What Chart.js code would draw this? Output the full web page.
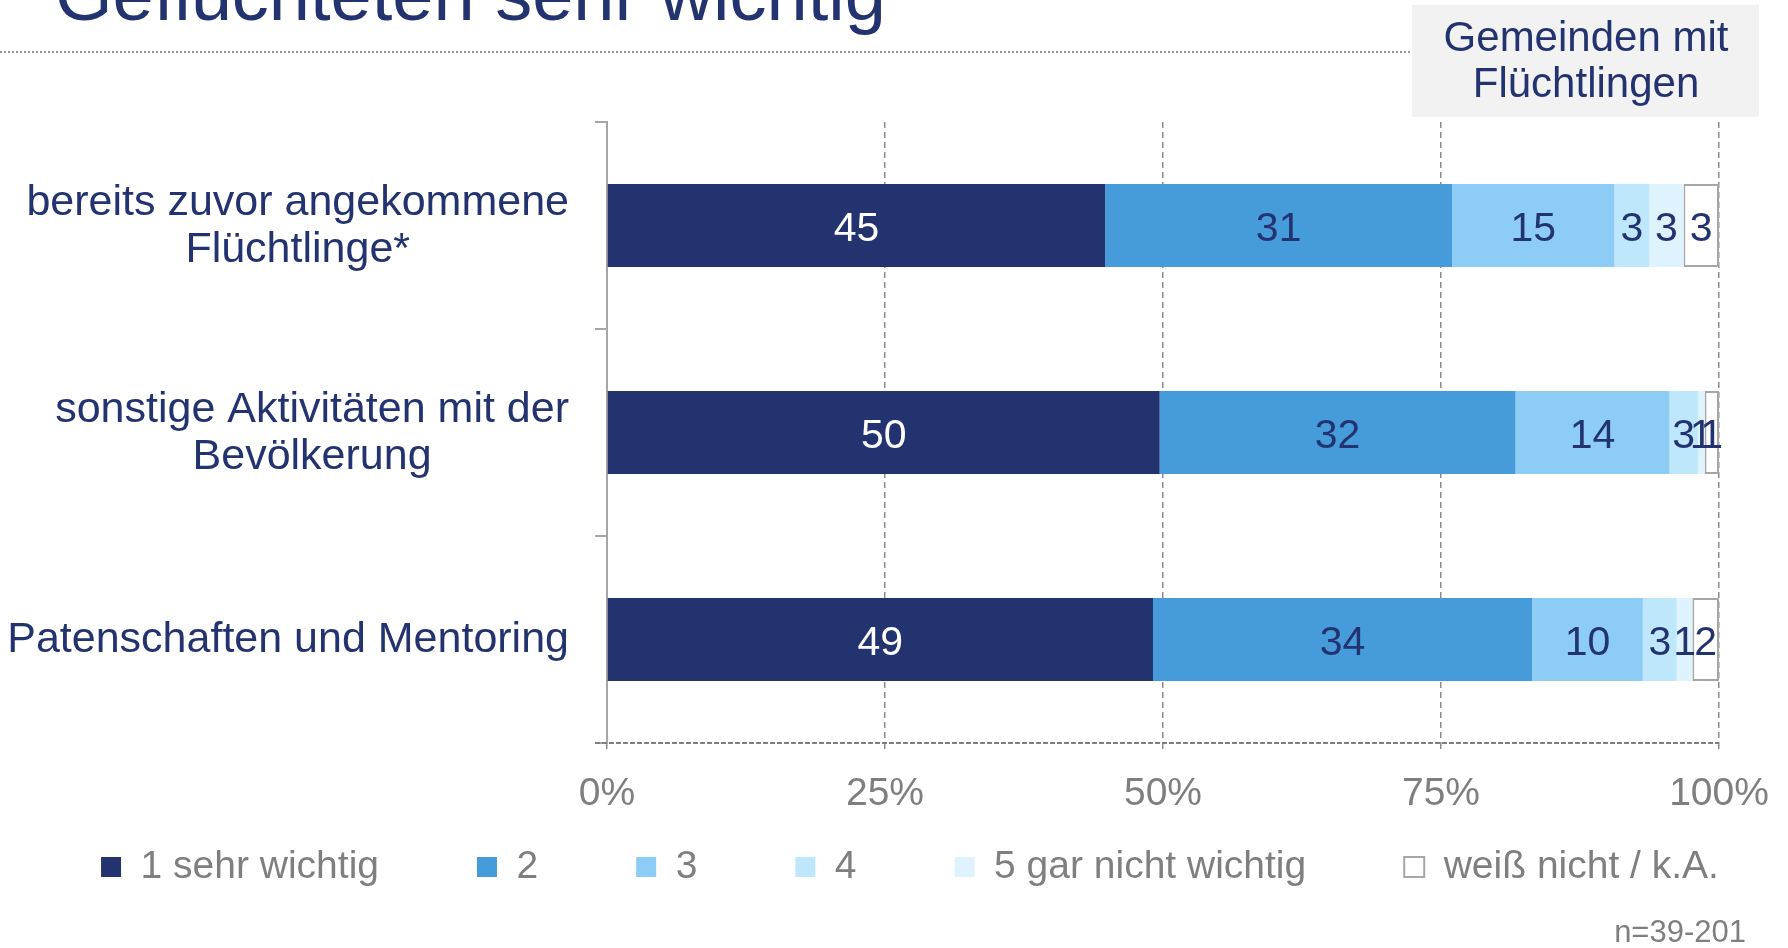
<!DOCTYPE html>
<html><head><meta charset="utf-8">
<script src="https://cdn.jsdelivr.net/npm/chart.js@4/dist/chart.umd.min.js"></script>
<style>html,body{margin:0;padding:0;background:#fff;overflow:hidden}#wrap{position:relative;width:1788px;height:948px}</style>
</head><body><div id="wrap"><canvas id="c" width="1788" height="948"></canvas></div>
<script>
// ---- data ----
const titleText = 'Geflüchteten sehr wichtig';
const badgeLines = ['Gemeinden mit', 'Flüchtlingen'];
const noteText = 'n=39-201';
const categories = [
  ['bereits zuvor angekommene', 'Flüchtlinge*'],
  ['sonstige Aktivitäten mit der', 'Bevölkerung'],
  ['Patenschaften und Mentoring']
];
const seriesNames = ['1 sehr wichtig', '2', '3', '4', '5 gar nicht wichtig', 'weiß nicht / k.A.'];
const s1 = [44.8, 49.7, 49.1];
const s2 = [31.2, 32.0, 34.1];
const s3 = [14.6, 13.85, 9.95];
const s4 = [3.15, 2.55, 3.05];
const s5 = [3.05, 0.6, 1.4];
const s6 = [3.2, 1.3, 2.4];
const xTickValues = [0, 25, 50, 75, 100];

// ---- styles ----
const FONT = "'Liberation Sans', Arial, sans-serif";
const NAVY = '#22336f';
const GRAY = '#7f7f7f';
const colors = ['#22336f', '#469bdb', '#8dcdf5', '#bfe7fc', '#def3fd', '#ffffff'];
const seriesValues = [s1, s2, s3, s4, s5, s6];
const LEGEND_PAD = 98;
const LEGEND_FONT = 39;

const datasets = seriesValues.map((d, i) => ({
  label: seriesNames[i],
  data: d,
  backgroundColor: colors[i],
  borderColor: i === 5 ? '#a6a6a6' : colors[i],
  borderWidth: i === 5 ? 2 : 0,
  borderSkipped: false,
  categoryPercentage: 1,
  barPercentage: 0.4
}));

const dataLabels = {
  id: 'dataLabels',
  afterDatasetsDraw(chart) {
    const c = chart.ctx;
    c.save();
    c.font = `41px ${FONT}`;
    c.textAlign = 'center';
    c.textBaseline = 'middle';
    chart.data.datasets.forEach((ds, di) => {
      const meta = chart.getDatasetMeta(di);
      meta.data.forEach((el, i) => {
        const v = ds.data[i];
        c.fillStyle = di === 0 ? '#ffffff' : NAVY;
        c.fillText(String(Math.round(v)), (el.x + el.base) / 2, el.y + 4);
      });
    });
    c.restore();
  }
};

const legendShift = {
  id: 'legendShift',
  afterLayout(chart) {
    const lg = chart.legend;
    if (!lg) return;
    const targetTop = 867 - LEGEND_PAD - LEGEND_FONT / 2;
    const h = lg.bottom - lg.top;
    lg.top = targetTop;
    lg.bottom = targetTop + h;
  }
};

const decor = {
  id: 'decor',
  afterDraw(chart) {
    const c = chart.ctx;
    const area = chart.chartArea;
    c.save();
    // dashed x-axis base line
    c.strokeStyle = '#7f7f7f';
    c.lineWidth = 2;
    c.setLineDash([5, 2]);
    c.beginPath(); c.moveTo(area.left - 12, area.bottom); c.lineTo(area.right, area.bottom); c.stroke();
    c.setLineDash([]);
    // title (cut at top)
    c.fillStyle = NAVY;
    c.font = `74px ${FONT}`;
    c.textAlign = 'left';
    c.textBaseline = 'alphabetic';
    c.fillText(titleText, 55, 20);
    // dotted rule
    c.strokeStyle = '#9a9a9a';
    c.lineWidth = 2;
    c.setLineDash([2, 2]);
    c.beginPath(); c.moveTo(0, 52); c.lineTo(1412, 52); c.stroke();
    c.setLineDash([]);
    // badge
    c.fillStyle = '#f2f2f2';
    c.fillRect(1412, 5, 347, 112);
    c.fillStyle = NAVY;
    c.font = `42px ${FONT}`;
    c.textAlign = 'center';
    c.textBaseline = 'middle';
    c.fillText(badgeLines[0], 1586, 39);
    c.fillText(badgeLines[1], 1586, 85);
    // category labels (block right-aligned, lines centred)
    const ys = chart.scales.y;
    c.font = `43px ${FONT}`;
    const right = area.left - 38;
    categories.forEach((lines, i) => {
      const yc = ys.getPixelForValue(i);
      const w = Math.max(...lines.map(l => c.measureText(l).width));
      const cx = right - w / 2;
      const lh = 47;
      lines.forEach((l, j) => c.fillText(l, cx, yc + 1 + (j - (lines.length - 1) / 2) * lh));
    });
    // note
    c.fillStyle = GRAY;
    c.font = `31px ${FONT}`;
    c.textAlign = 'right';
    c.fillText(noteText, 1746, 933);
    c.restore();
  }
};

new Chart(document.getElementById('c'), {
  type: 'bar',
  data: { labels: categories, datasets },
  plugins: [dataLabels, legendShift, decor],
  options: {
    indexAxis: 'y',
    responsive: false,
    animation: false,
    layout: { padding: { left: 0, right: -32, top: 122, bottom: -14 } },
    plugins: {
      legend: {
        position: 'bottom',
        labels: {
          font: { family: FONT, size: LEGEND_FONT },
          color: GRAY,
          boxWidth: 20,
          boxHeight: 20,
          padding: LEGEND_PAD
        }
      },
      tooltip: { enabled: false },
      title: { display: false }
    },
    scales: {
      x: {
        stacked: true,
        min: 0, max: 100,
        afterBuildTicks: s => { s.ticks = xTickValues.map(v => ({ value: v })); },
        ticks: { callback: v => v + '%', font: { family: FONT, size: 39 }, color: GRAY, padding: 18, maxRotation: 0, autoSkip: false },
        grid: { color: '#8c8c8c', lineWidth: 1.5, tickLength: 10, drawTicks: true, tickColor: '#8c8c8c', tickBorderDash: [6, 4], borderDash: [6, 4] },
        border: { display: false, dash: [6, 4] },
        afterFit: s => { s.height = 72; }
      },
      y: {
        stacked: true,
        ticks: { display: false },
        grid: { drawOnChartArea: false, tickLength: 12, color: '#a6a6a6', lineWidth: 2 },
        border: { display: true, color: '#a6a6a6', width: 2 },
        afterFit: s => { s.width = 607; }
      },
      yR: {
        type: 'linear',
        position: 'right',
        display: true,
        grid: { display: false },
        ticks: { display: false },
        border: { display: false },
        afterFit: s => { s.width = 101; }
      }
    }
  }
});
</script>
</body></html>
